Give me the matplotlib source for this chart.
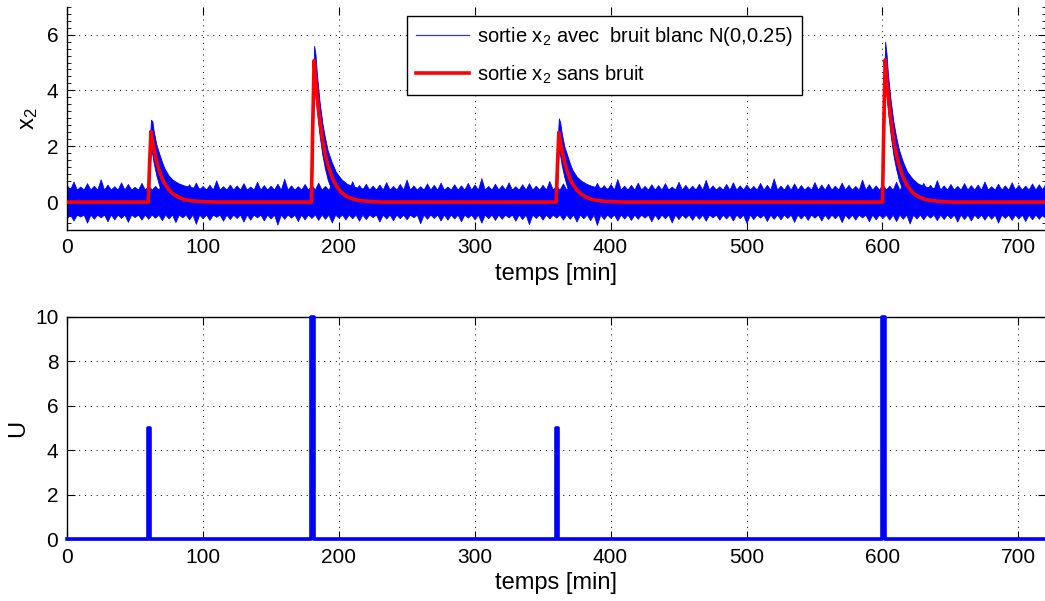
import numpy as np
import matplotlib
matplotlib.use("Agg")
import matplotlib.pyplot as plt
from matplotlib.ticker import MultipleLocator

plt.rcParams['font.family'] = ['Liberation Sans', 'DejaVu Sans']
plt.rcParams['mathtext.fontset'] = 'custom'
plt.rcParams['mathtext.rm'] = 'Liberation Sans'
plt.rcParams['mathtext.it'] = 'Liberation Sans'

# --- x2 sans bruit, with the solid part of the noisy band around it ---
t_p1 = [60, 61, 62, 63, 64, 66, 68, 70, 72, 75, 78, 82, 86, 90, 95, 102, 112]
x_p1 = [0, 1.40, 2.53, 2.21, 1.95, 1.49, 1.14, 0.87, 0.67, 0.46, 0.30, 0.18, 0.10, 0.06, 0.03, 0.013, 0]
hi_p1 = [0.45, 2.0, 2.95, 2.90, 2.55, 2.05, 1.75, 1.45, 1.2, 0.95, 0.8, 0.68, 0.6, 0.55, 0.5, 0.47, 0.45]
lo_p1 = [-0.45, 0.9, 1.9, 1.7, 1.4, 0.95, 0.6, 0.35, 0.15, -0.05, -0.2, -0.3, -0.38, -0.42, -0.44, -0.45, -0.45]

t_p2 = [180, 181, 182, 183, 184, 186, 188, 190, 192, 195, 198, 202, 206, 210, 215, 222, 232]
x_p2 = [0, 2.8, 5.07, 4.44, 3.90, 2.99, 2.28, 1.75, 1.34, 0.91, 0.61, 0.35, 0.20, 0.12, 0.06, 0.025, 0]
hi_p2 = [0.45, 3.5, 5.6, 5.3, 4.6, 3.6, 2.85, 2.3, 1.85, 1.42, 1.08, 0.82, 0.66, 0.57, 0.5, 0.47, 0.45]
lo_p2 = [-0.45, 2.0, 4.5, 3.8, 3.3, 2.4, 1.7, 1.2, 0.8, 0.4, 0.1, -0.15, -0.28, -0.36, -0.42, -0.44, -0.45]

t_p3 = [360, 361, 362, 363, 364, 366, 368, 370, 372, 375, 378, 382, 386, 390, 395, 402, 412]
x_p3 = [0, 1.38, 2.50, 2.19, 1.93, 1.47, 1.13, 0.86, 0.66, 0.45, 0.30, 0.18, 0.10, 0.06, 0.03, 0.013, 0]
hi_p3 = [0.45, 2.1, 3.0, 2.85, 2.5, 2.0, 1.7, 1.4, 1.15, 0.92, 0.78, 0.66, 0.58, 0.53, 0.5, 0.47, 0.45]
lo_p3 = [-0.45, 0.9, 1.9, 1.65, 1.35, 0.9, 0.55, 0.3, 0.1, -0.1, -0.22, -0.32, -0.39, -0.42, -0.44, -0.45, -0.45]

t_p4 = [600, 601, 602, 603, 604, 606, 608, 610, 612, 615, 618, 622, 626, 630, 635, 642, 652]
x_p4 = [0, 2.82, 5.10, 4.46, 3.92, 3.01, 2.30, 1.76, 1.35, 0.92, 0.61, 0.35, 0.20, 0.12, 0.06, 0.025, 0]
hi_p4 = [0.45, 3.6, 5.75, 5.3, 4.6, 3.65, 2.9, 2.35, 1.9, 1.45, 1.1, 0.84, 0.67, 0.58, 0.51, 0.47, 0.45]
lo_p4 = [-0.45, 2.0, 4.5, 3.8, 3.3, 2.4, 1.7, 1.2, 0.8, 0.4, 0.1, -0.15, -0.28, -0.36, -0.42, -0.44, -0.45]

t_clean = np.array([0] + t_p1 + t_p2 + t_p3 + t_p4 + [720])
x2_clean = np.array([0] + x_p1 + x_p2 + x_p3 + x_p4 + [0])
x2_hi = np.array([0.45] + hi_p1 + hi_p2 + hi_p3 + hi_p4 + [0.45])
x2_lo = np.array([-0.45] + lo_p1 + lo_p2 + lo_p3 + lo_p4 + [-0.45])

# --- bruit blanc: spike tips above / below the band, every 5 min ---
t_noise = np.arange(0, 721, 5)
noise_hi = [
    0.62, 0.74, 0.56, 0.68, 0.59, 0.82, 0.63, 0.57, 0.71, 0.65, 0.55, 0.69,
    0.60, 0.58, 0.66, 0.73, 0.61, 0.56, 0.64, 0.70, 0.58, 0.62, 0.78, 0.57,
    0.63, 0.60, 0.68, 0.56, 0.73, 0.61, 0.59, 0.66, 0.84, 0.60, 0.57, 0.65,
    0.62, 0.70, 0.58, 0.64, 0.69, 0.57, 0.75, 0.61, 0.66, 0.59, 0.63, 0.72,
    0.58, 0.65, 0.81, 0.60, 0.57, 0.67, 0.62, 0.70, 0.56, 0.64, 0.60, 0.69,
    0.63, 0.86, 0.58, 0.66, 0.61, 0.71, 0.57, 0.64, 0.68, 0.59, 0.62, 0.76,
    0.60, 0.67, 0.58, 0.72, 0.63, 0.57, 0.69, 0.61, 0.65, 0.83, 0.59, 0.62,
    0.70, 0.58, 0.64, 0.61, 0.68, 0.56, 0.73, 0.62, 0.59, 0.66, 0.80, 0.60,
    0.57, 0.65, 0.71, 0.60, 0.63, 0.58, 0.69, 0.62, 0.85, 0.59, 0.64, 0.67,
    0.61, 0.57, 0.72, 0.63, 0.66, 0.59, 0.70, 0.62, 0.58, 0.81, 0.64, 0.60,
    0.66, 0.59, 0.73, 0.61, 0.64, 0.57, 0.69, 0.62, 0.79, 0.60, 0.65, 0.58,
    0.68, 0.61, 0.63, 0.74, 0.57, 0.66, 0.60, 0.71, 0.62, 0.59, 0.67, 0.64,
    0.70]
noise_lo = [
    -0.58, -0.66, -0.52, -0.74, -0.60, -0.55, -0.69, -0.62, -0.57, -0.71, -0.54, -0.63,
    -0.60, -0.56, -0.65, -0.59, -0.72, -0.55, -0.62, -0.78, -0.58, -0.64, -0.53, -0.67,
    -0.61, -0.57, -0.70, -0.63, -0.55, -0.66, -0.59, -0.81, -0.60, -0.56, -0.68, -0.62,
    -0.57, -0.64, -0.60, -0.73, -0.56, -0.62, -0.58, -0.67, -0.61, -0.54, -0.70, -0.59,
    -0.65, -0.58, -0.62, -0.55, -0.76, -0.60, -0.57, -0.66, -0.63, -0.59, -0.69, -0.56,
    -0.62, -0.74, -0.58, -0.64, -0.60, -0.55, -0.67, -0.61, -0.79, -0.57, -0.63, -0.59,
    -0.56, -0.63, -0.60, -0.70, -0.58, -0.65, -0.82, -0.61, -0.57, -0.66, -0.59, -0.64,
    -0.60, -0.56, -0.69, -0.62, -0.58, -0.73, -0.61, -0.57, -0.64, -0.60, -0.67, -0.55,
    -0.63, -0.59, -0.66, -0.58, -0.75, -0.61, -0.56, -0.68, -0.60, -0.62, -0.57, -0.71,
    -0.59, -0.64, -0.56, -0.66, -0.61, -0.58, -0.72, -0.60, -0.63, -0.55, -0.69, -0.62,
    -0.57, -0.63, -0.68, -0.60, -0.77, -0.59, -0.62, -0.56, -0.65, -0.61, -0.58, -0.70,
    -0.61, -0.66, -0.58, -0.63, -0.60, -0.74, -0.57, -0.64, -0.59, -0.68, -0.62, -0.60,
    -0.58]
# solid part of the band between the spikes
core_hi = 0.45
core_lo = -0.45

# --- commande U ---
t_u = [0, 60, 60, 61, 61, 180, 180, 182, 182, 360, 360, 361, 361, 600, 600, 602, 602, 720]
u = [0, 0, 5, 5, 0, 0, 10, 10, 0, 0, 5, 5, 0, 0, 10, 10, 0, 0]

xticks = [0, 100, 200, 300, 400, 500, 600, 700]

# spike edge: tips at t_noise, band level half-way between them
t_edge = np.empty(2 * len(t_noise) - 1)
t_edge[0::2] = t_noise
t_edge[1::2] = t_noise[:-1] + 2.5
edge_hi = np.full(t_edge.shape, core_hi)
edge_hi[0::2] = noise_hi
edge_lo = np.full(t_edge.shape, core_lo)
edge_lo[0::2] = noise_lo

fig = plt.figure(figsize=(10.45, 6.01), dpi=100)
ax0 = fig.add_axes([0.0638, 0.6173, 0.9368, 0.3716])
ax1 = fig.add_axes([0.0638, 0.1027, 0.9368, 0.3704])

grid_kw = dict(color='black', linestyle=(0, (1, 5)), linewidth=0.7)

# top
ax0.fill_between(t_edge, edge_lo, edge_hi, color='blue', lw=0.5, zorder=2)
ax0.fill_between(t_clean, x2_lo, x2_hi, color='blue', lw=0.6, zorder=2)
ax0.plot(t_clean, x2_clean, color='red', lw=2.6, zorder=3)
h_noise, = ax0.plot([], [], color='#3030ff', lw=0.9,
                    label='sortie x$_2$ avec  bruit blanc N(0,0.25)')
h_clean, = ax0.plot([], [], color='red', lw=2.6, label='sortie x$_2$ sans bruit')
ax0.set_xlim(0, 720)
ax0.set_ylim(-1, 7)
ax0.set_yticks([0, 2, 4, 6])
ax0.yaxis.set_minor_locator(MultipleLocator(0.25))
ax0.set_xticks(xticks)
ax0.spines['top'].set_visible(False)
ax0.set_xlabel('temps [min]', fontsize=17, labelpad=4)
ax0.set_ylabel('x$_2$', fontsize=17, labelpad=5)
ax0.grid(True, **grid_kw)
leg = ax0.legend(handles=[h_noise, h_clean], loc='upper left',
                 bbox_to_anchor=(0.348, 0.958), borderaxespad=0,
                 fancybox=False, edgecolor='black', framealpha=1,
                 fontsize=14.5, handlelength=2.6, handletextpad=0.4,
                 labelspacing=0.75, borderpad=0.45)
leg.get_frame().set_linewidth(1.0)
leg.set_zorder(5)

# bottom
ax1.plot(t_u, u, color='blue', lw=2.6, clip_on=False, zorder=3)
ax1.set_xlim(0, 720)
ax1.set_ylim(0, 10)
ax1.set_yticks([0, 2, 4, 6, 8, 10])
ax1.set_xticks(xticks)
ax1.set_xlabel('temps [min]', fontsize=17, labelpad=4)
ax1.set_ylabel('U', fontsize=17, labelpad=4)
ax1.grid(True, **grid_kw)

for ax in (ax0, ax1):
    ax.set_axisbelow(True)
    ax.tick_params(direction='in', length=6, width=0.8, top=True, right=True,
                   labelsize=15, pad=6)
    for s in ax.spines.values():
        s.set_linewidth(1.0)
ax0.tick_params(which='minor', direction='in', length=3, width=0.6, left=True, right=True)

fig.savefig('out.png', dpi=100)
